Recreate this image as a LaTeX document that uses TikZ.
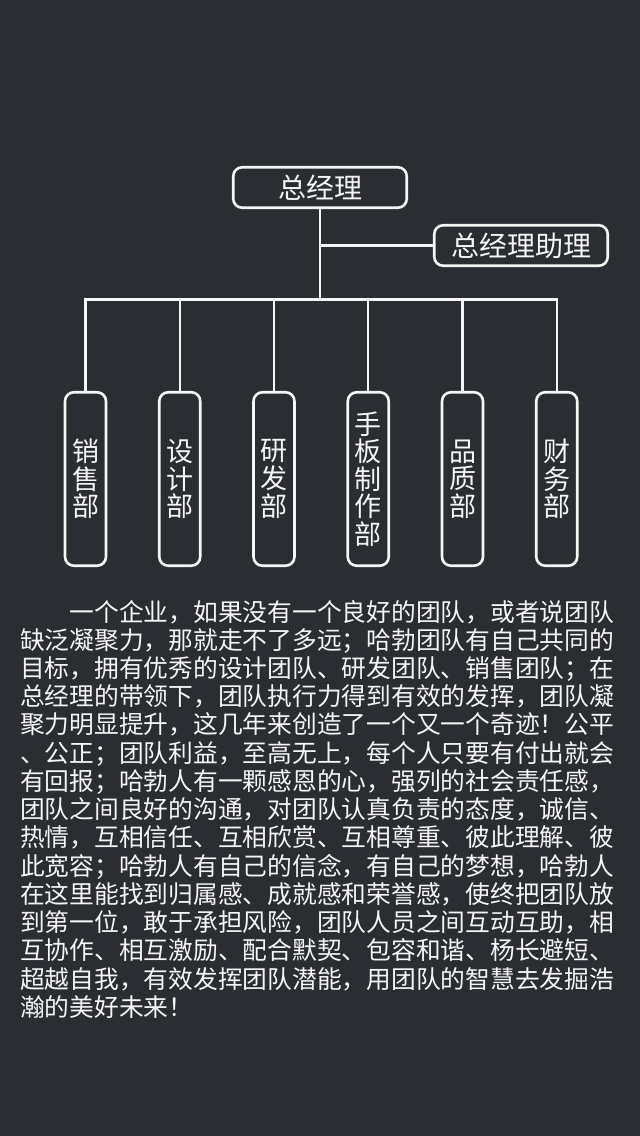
\documentclass[tikz,border=0pt]{standalone}
\usepackage{fontspec}
\newfontfamily\cjk{Noto Sans CJK SC}
\definecolor{bg}{RGB}{42,45,50}
\definecolor{fg}{RGB}{245,245,245}
\tikzset{
  box/.style={draw=fg, line width=2.6pt, rounded corners=9pt, inner sep=0pt, text=fg},
  topbox/.style={box, minimum width=173.5pt, minimum height=40.5pt, font=\cjk\fontsize{28}{28}\selectfont},
  deptbox/.style={box, minimum width=41pt, minimum height=173.5pt, align=center, font=\cjk\fontsize{27}{27.6}\selectfont},
  conn/.style={draw=fg, line width=2.2pt},
  para/.style={anchor=base west, inner sep=0pt, text=fg, font=\cjk\fontsize{24.75}{28}\selectfont}
}
\begin{document}
\begin{tikzpicture}[x=1pt, y=-1pt]
\fill[bg] (0,0) rectangle (640,1136);
\useasboundingbox (0,0) rectangle (640,1136);

\node[topbox] (gm) at (320,187.5) {总经理};
\node[topbox] (asst) at (521,245.5) {总经理助理};

\node[deptbox] (d1) at (85.5,479) {销\\售\\部};
\node[deptbox] (d2) at (179.75,479) {设\\计\\部};
\node[deptbox] (d3) at (274,479) {研\\发\\部};
\node[deptbox] (d4) at (368.25,479) {手\\板\\制\\作\\部};
\node[deptbox] (d5) at (462.5,479) {品\\质\\部};
\node[deptbox] (d6) at (556.75,479) {财\\务\\部};

\coordinate (j) at (320,299.5);
\draw[conn] (gm.south) -- (gm.south |- j);
\draw[conn] (gm.south |- asst.west) -- (asst.west);
\draw[conn, line cap=rect] (d1.north |- j) -- (d6.north |- j);
\foreach \i in {1,...,6}{
  \draw[conn] (d\i.north |- j) -- (d\i.north);
}

\node[para] (p1) at (20,621) {\hspace*{2em}一个企业，如果没有一个良好的团队，或者说团队};
\node[para] (p2) at (20,649.24) {缺泛凝聚力，那就走不了多远；哈勃团队有自己共同的};
\node[para] (p3) at (20,677.48) {目标，拥有优秀的设计团队、研发团队、销售团队；在};
\node[para] (p4) at (20,705.72) {总经理的带领下，团队执行力得到有效的发挥，团队凝};
\node[para] (p5) at (20,733.96) {聚力明显提升，这几年来创造了一个又一个奇迹！公平};
\node[para] (p6) at (20,762.2) {、公正；团队利益，至高无上，每个人只要有付出就会};
\node[para] (p7) at (20,790.44) {有回报；哈勃人有一颗感恩的心，强列的社会责任感，};
\node[para] (p8) at (20,818.68) {团队之间良好的沟通，对团队认真负责的态度，诚信、};
\node[para] (p9) at (20,846.92) {热情，互相信任、互相欣赏、互相尊重、彼此理解、彼};
\node[para] (p10) at (20,875.16) {此宽容；哈勃人有自己的信念，有自己的梦想，哈勃人};
\node[para] (p11) at (20,903.4) {在这里能找到归属感、成就感和荣誉感，使终把团队放};
\node[para] (p12) at (20,931.64) {到第一位，敢于承担风险，团队人员之间互动互助，相};
\node[para] (p13) at (20,959.88) {互协作、相互激励、配合默契、包容和谐、杨长避短、};
\node[para] (p14) at (20,988.12) {超越自我，有效发挥团队潜能，用团队的智慧去发掘浩};
\node[para] (p15) at (20,1016.36) {瀚的美好未来！};
\end{tikzpicture}
\end{document}
